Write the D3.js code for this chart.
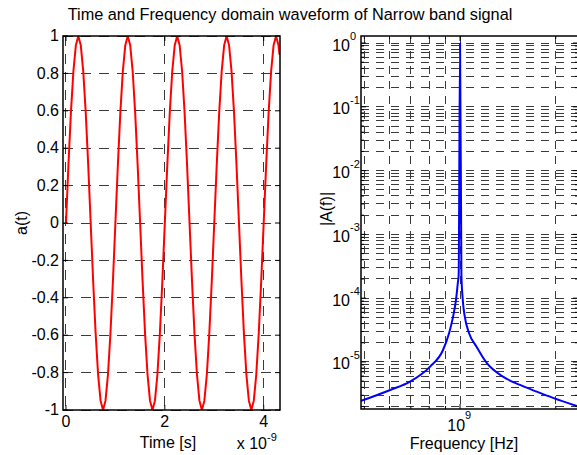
<!DOCTYPE html>
<html>
<head>
<meta charset="utf-8">
<script src="https://cdn.jsdelivr.net/npm/d3@7"></script>
<style>
body { margin: 0; background: #fff; }
text { font-family: "Liberation Sans", Arial, sans-serif; fill: #000; }
</style>
</head>
<body>
<script>
// time axis in ns (axis shows x 10^-9)
var timeNs = [0, 0.05, 0.1, 0.15, 0.2, 0.25, 0.3, 0.35, 0.4, 0.45,
    0.5, 0.55, 0.6, 0.65, 0.7, 0.75, 0.8, 0.85, 0.9, 0.95,
    1, 1.05, 1.1, 1.15, 1.2, 1.25, 1.3, 1.35, 1.4, 1.45,
    1.5, 1.55, 1.6, 1.65, 1.7, 1.75, 1.8, 1.85, 1.9, 1.95,
    2, 2.05, 2.1, 2.15, 2.2, 2.25, 2.3, 2.35, 2.4, 2.45,
    2.5, 2.55, 2.6, 2.65, 2.7, 2.75, 2.8, 2.85, 2.9, 2.95,
    3, 3.05, 3.1, 3.15, 3.2, 3.25, 3.3, 3.35, 3.4, 3.45,
    3.5, 3.55, 3.6, 3.65, 3.7, 3.75, 3.8, 3.85, 3.9, 3.95,
    4, 4.05, 4.1, 4.15, 4.2, 4.25, 4.3, 4.32];
var amplitude = [0, 0.31, 0.59, 0.81, 0.95, 1, 0.95, 0.81, 0.59, 0.31,
    0, -0.31, -0.59, -0.81, -0.95, -1, -0.95, -0.81, -0.59, -0.31,
    0, 0.31, 0.59, 0.81, 0.95, 1, 0.95, 0.81, 0.59, 0.31,
    0, -0.31, -0.59, -0.81, -0.95, -1, -0.95, -0.81, -0.59, -0.31,
    0, 0.31, 0.59, 0.81, 0.95, 1, 0.95, 0.81, 0.59, 0.31,
    0, -0.31, -0.59, -0.81, -0.95, -1, -0.95, -0.81, -0.59, -0.31,
    0, 0.31, 0.59, 0.81, 0.95, 1, 0.95, 0.81, 0.59, 0.31,
    0, -0.31, -0.59, -0.81, -0.95, -1, -0.95, -0.81, -0.59, -0.31,
    0, 0.31, 0.59, 0.81, 0.95, 1, 0.95, 0.9];

// spectrum
var freqHz = [4.88e8, 6.03e8, 6.96e8, 8.05e8, 8.84e8, 9.24e8, 9.51e8, 9.71e8, 9.84e8, 9.9e8,
    1e9, 1.01e9, 1.02e9, 1.035e9, 1.067e9, 1.128e9, 1.213e9, 1.365e9, 1.544e9, 1.743e9, 1.961e9, 2.35e9];
var magnitude = [2.45e-6, 3.64e-6, 4.91e-6, 8.44e-6, 1.54e-5, 2.85e-5, 5.13e-5, 9.37e-5, 1.73e-4, 2.31e-4,
    1.0, 2.31e-4, 9.37e-5, 5.13e-5, 2.85e-5, 1.72e-5, 9.64e-6, 5.89e-6, 4.36e-6, 3.42e-6, 2.73e-6, 2.01e-6];

var ampTicks = [-1, -0.8, -0.6, -0.4, -0.2, 0, 0.2, 0.4, 0.6, 0.8, 1];
var timeTicks = [0, 2, 4];
var magDecades = [-5, -4, -3, -2, -1, 0];
var freqDecades = [9];
var titleText = "Time and Frequency domain waveform of Narrow band signal";

var width = 577, height = 455;
var svg = d3.select("body").append("svg")
    .attr("width", width)
    .attr("height", height);

var L = {x0: 63, x1: 280, y0: 36, y1: 410};
var R = {x0: 361, x1: 578, y0: 36, y1: 409};

var xT = d3.scaleLinear().domain([-0.06, 4.33]).range([L.x0, L.x1]);
var yA = d3.scaleLinear().domain([-1, 1]).range([L.y1, L.y0]);
var xF = d3.scaleLog().domain([4.88e8, 2.35e9]).range([R.x0, R.x1]);
var yF = d3.scaleLog().domain([1.83e-6, 1.29]).range([R.y1, R.y0]);

var gridColor = "#3a3a3a";

function isDecade(v) {
    var l = Math.log10(v);
    return Math.abs(l - Math.round(l)) < 1e-9;
}

var defs = svg.append("defs");
defs.append("clipPath").attr("id", "clipL").append("rect")
    .attr("x", L.x0).attr("y", L.y0).attr("width", L.x1 - L.x0).attr("height", L.y1 - L.y0);
defs.append("clipPath").attr("id", "clipR").append("rect")
    .attr("x", R.x0).attr("y", R.y0).attr("width", R.x1 - R.x0).attr("height", R.y1 - R.y0);

// ---------- left: time domain ----------
var gL = svg.append("g");
gL.selectAll(".hgrid").data(ampTicks).enter().append("line")
    .attr("x1", L.x0).attr("x2", L.x1)
    .attr("y1", function (d) { return yA(d); }).attr("y2", function (d) { return yA(d); })
    .attr("stroke", gridColor).attr("stroke-dasharray", "10,8").attr("shape-rendering", "crispEdges");
gL.selectAll(".vgrid").data(timeTicks).enter().append("line")
    .attr("y1", L.y0).attr("y2", L.y1)
    .attr("x1", function (d) { return xT(d); }).attr("x2", function (d) { return xT(d); })
    .attr("stroke", gridColor).attr("stroke-dasharray", "10,8").attr("shape-rendering", "crispEdges");

var lineT = d3.line()
    .x(function (d, i) { return xT(timeNs[i]); })
    .y(function (d) { return yA(d); });
gL.append("path")
    .attr("d", lineT(amplitude))
    .attr("clip-path", "url(#clipL)")
    .attr("fill", "none").attr("stroke", "#ff0000").attr("stroke-width", 2);

// ticks (inside, all sides)
ampTicks.forEach(function (d) {
    var y = yA(d);
    gL.append("line").attr("x1", L.x0).attr("x2", L.x0 + 5).attr("y1", y).attr("y2", y).attr("stroke", "#000");
    gL.append("line").attr("x1", L.x1).attr("x2", L.x1 - 5).attr("y1", y).attr("y2", y).attr("stroke", "#000");
    gL.append("text").attr("x", 59).attr("y", y).attr("dy", "0.32em")
        .attr("text-anchor", "end").style("font-size", "16px").text(String(d));
});
timeTicks.forEach(function (d) {
    var x = xT(d);
    gL.append("line").attr("x1", x).attr("x2", x).attr("y1", L.y1).attr("y2", L.y1 - 5).attr("stroke", "#000");
    gL.append("line").attr("x1", x).attr("x2", x).attr("y1", L.y0).attr("y2", L.y0 + 5).attr("stroke", "#000");
    gL.append("text").attr("x", x).attr("y", 427)
        .attr("text-anchor", "middle").style("font-size", "16px").text(String(d));
});
gL.append("rect")
    .attr("x", L.x0).attr("y", L.y0).attr("width", L.x1 - L.x0).attr("height", L.y1 - L.y0)
    .attr("fill", "none").attr("stroke", "#000").attr("stroke-width", 1.5);

gL.append("text").attr("x", 168).attr("y", 448).attr("text-anchor", "middle")
    .style("font-size", "16px").text("Time [s]");
gL.append("text").attr("x", 267).attr("y", 449).attr("text-anchor", "end")
    .style("font-size", "16px").text("x 10");
gL.append("text").attr("x", 267).attr("y", 441)
    .style("font-size", "11px").text("-9");
gL.append("text")
    .attr("transform", "translate(27," + ((L.y0 + L.y1) / 2) + ") rotate(-90)")
    .attr("text-anchor", "middle").style("font-size", "16px").text("a(t)");

// ---------- right: frequency domain ----------
var gR = svg.append("g");
var yMinor = yF.ticks();
var xMinor = xF.ticks();
gR.selectAll(".hgrid").data(yMinor).enter().append("line")
    .attr("x1", R.x0).attr("x2", R.x1)
    .attr("y1", function (d) { return yF(d); }).attr("y2", function (d) { return yF(d); })
    .attr("stroke", gridColor).attr("stroke-dasharray", "8,7").attr("shape-rendering", "crispEdges");
gR.selectAll(".vgrid").data(xMinor).enter().append("line")
    .attr("y1", R.y0).attr("y2", R.y1)
    .attr("x1", function (d) { return xF(d); }).attr("x2", function (d) { return xF(d); })
    .attr("stroke", gridColor).attr("stroke-dasharray", "8,7").attr("shape-rendering", "crispEdges");

var lineF = d3.line()
    .x(function (d, i) { return xF(freqHz[i]); })
    .y(function (d) { return yF(d); })
    .curve(d3.curveMonotoneX);
gR.append("path")
    .attr("d", lineF(magnitude))
    .attr("clip-path", "url(#clipR)")
    .attr("fill", "none").attr("stroke", "#0000ff").attr("stroke-width", 2);

yMinor.forEach(function (d) {
    var y = yF(d), len = isDecade(d) ? 5 : 3;
    gR.append("line").attr("x1", R.x0).attr("x2", R.x0 + len).attr("y1", y).attr("y2", y).attr("stroke", "#000");
    gR.append("line").attr("x1", R.x1).attr("x2", R.x1 - len).attr("y1", y).attr("y2", y).attr("stroke", "#000");
});
xMinor.forEach(function (d) {
    var x = xF(d), len = isDecade(d) ? 5 : 3;
    gR.append("line").attr("x1", x).attr("x2", x).attr("y1", R.y1).attr("y2", R.y1 - len).attr("stroke", "#000");
    gR.append("line").attr("x1", x).attr("x2", x).attr("y1", R.y0).attr("y2", R.y0 + len).attr("stroke", "#000");
});
magDecades.forEach(function (e) {
    var y = yF(Math.pow(10, e));
    gR.append("text").attr("x", 350).attr("y", y + 7.5).attr("text-anchor", "end")
        .style("font-size", "16px").text("10");
    gR.append("text").attr("x", 350).attr("y", y - 3)
        .style("font-size", "11px").text(String(e));
});
freqDecades.forEach(function (e) {
    var x = xF(Math.pow(10, e));
    gR.append("text").attr("x", x + 5).attr("y", 431).attr("text-anchor", "end")
        .style("font-size", "16px").text("10");
    gR.append("text").attr("x", x + 5).attr("y", 419)
        .style("font-size", "11px").text(String(e));
});
gR.append("rect")
    .attr("x", R.x0).attr("y", R.y0).attr("width", R.x1 - R.x0).attr("height", R.y1 - R.y0)
    .attr("fill", "none").attr("stroke", "#000").attr("stroke-width", 1.5);

gR.append("text").attr("x", 464).attr("y", 449).attr("text-anchor", "middle")
    .style("font-size", "16px").text("Frequency [Hz]");
gR.append("text")
    .attr("transform", "translate(332,209) rotate(-90)")
    .attr("text-anchor", "middle").style("font-size", "16px").text("|A(f)|");

// title
svg.append("text").attr("x", 290).attr("y", 20).attr("text-anchor", "middle")
    .style("font-size", "16.3px").text(titleText);
</script>
</body>
</html>
